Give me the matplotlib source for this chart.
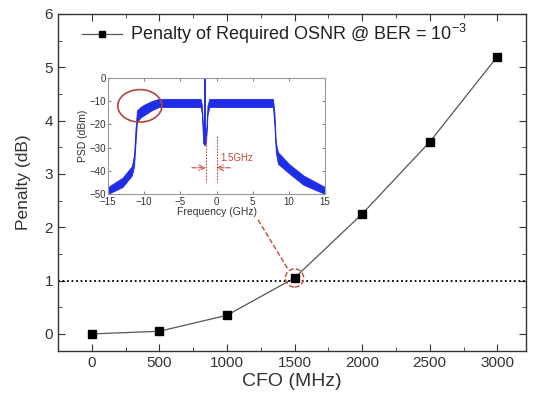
import matplotlib
matplotlib.use("Agg")
import matplotlib.pyplot as plt
from matplotlib.patches import Ellipse
from matplotlib.ticker import MultipleLocator

plt.rcParams["font.family"] = ["Liberation Sans", "DejaVu Sans"]

# main curve: OSNR penalty vs carrier frequency offset
cfo_mhz = [0, 500, 1000, 1500, 2000, 2500, 3000]
penalty_db = [0.0, 0.05, 0.35, 1.05, 2.25, 3.6, 5.2]
ref_penalty = 1.0

# inset spectrum, read as an upper/lower envelope of the noisy trace
psd_freq = [-15, -13, -11.7, -11.4, -11.2, -11.0, -10.5, -10, -9, -8, -7.5,
            -2.2, -2.0, -1.85, -1.65, -1.45, -1.25, -1.0, 0, 7.8, 8.0, 8.2,
            8.5, 10, 12, 15]
psd_upper = [-47, -43, -38, -33, -22, -14, -12.5, -11.5, -10, -9, -9,
             -9, -12, -24, -25, -24, -12, -9, -9, -9, -15, -28,
             -32, -37, -42, -47]
psd_lower = [-50, -47, -42, -38, -28, -19, -17, -16, -14, -12.5, -12.5,
             -12.5, -16, -28, -29, -28, -16, -12.5, -12.5, -12.5, -20, -32,
             -37, -41, -46, -50]
carrier_freq = -1.65
carrier_peak = 0
cfo_marks = [-1.5, 0.0]

RED = "#c8463c"
TXT = "#333333"

fig = plt.figure(figsize=(5.35, 4.11), dpi=100)
ax = fig.add_axes([0.1084, 0.146, 0.8742, 0.820])

ax.plot(cfo_mhz, penalty_db, color="#555555", lw=0.9, marker="s", ms=6,
        mfc="black", mec="black",
        label="Penalty of Required OSNR @ BER = 10$^{\\mathregular{-3}}$")
ax.axhline(ref_penalty, color="black", ls=(0, (1, 1.5)), lw=1.3)

ax.set_xlim(-250, 3210)
ax.set_ylim(-0.32, 6)
ax.xaxis.set_major_locator(MultipleLocator(500))
ax.xaxis.set_minor_locator(MultipleLocator(250))
ax.yaxis.set_major_locator(MultipleLocator(1))
ax.yaxis.set_minor_locator(MultipleLocator(0.5))
ax.tick_params(which="both", direction="in", top=True, right=True,
               labelsize=11, colors=TXT, labelcolor=TXT)
ax.tick_params(which="major", length=5)
ax.tick_params(which="minor", length=3)
for s in ax.spines.values():
    s.set_color(TXT)
    s.set_linewidth(1.0)
ax.set_xlabel("CFO (MHz)", fontsize=14, color=TXT, labelpad=2)
ax.set_ylabel("Penalty (dB)", fontsize=12.5, color=TXT, labelpad=10)
ax.legend(loc="upper left", bbox_to_anchor=(0.051, 0.975), frameon=False,
          fontsize=13, handlelength=2.2, handletextpad=0.45, borderpad=0,
          borderaxespad=0, markerscale=0.75, labelcolor="#222222")

# dashed circle around the 1500 MHz point and link to the inset
ax.add_patch(Ellipse((cfo_mhz[3], penalty_db[3]), 135, 0.34, fill=False,
                     ec=RED, ls="--", lw=1.0, zorder=5))
ax.plot([1230, 1455], [2.14, 1.2], color=RED, ls="--", lw=1.0)

# inset
ins = fig.add_axes([0.2019, 0.528, 0.4056, 0.2822])
ins.fill_between(psd_freq, psd_lower, psd_upper, color="#1f2ee6", lw=0.6,
                 edgecolor="#1f2ee6")
ins.vlines(carrier_freq, psd_lower[psd_freq.index(carrier_freq)], carrier_peak,
           color="#1f2ee6", lw=1.4)
ins.set_xlim(-15, 15)
ins.set_ylim(-50, 0)
ins.xaxis.set_major_locator(MultipleLocator(5))
ins.yaxis.set_major_locator(MultipleLocator(10))
ins.tick_params(direction="in", top=True, right=True, length=2.5,
                labelsize=7, colors="#888888", labelcolor=TXT, pad=1.5)
ins.tick_params(axis="x", pad=2.5)
for s in ins.spines.values():
    s.set_color("#999999")
    s.set_linewidth(0.8)
ins.set_xlabel("Frequency (GHz)", fontsize=7.5, color=TXT, labelpad=0)
ins.set_ylabel("PSD (dBm)", fontsize=7.5, color=TXT, labelpad=1)

ins.add_patch(Ellipse((-10.6, -12), 6.1, 14, fill=False, ec="#b5463a", lw=1.2))
for f in cfo_marks:
    ins.plot([f, f], [-25, -45], color=RED, ls=(0, (1.5, 1.2)), lw=0.8)
ins.annotate("", xy=(cfo_marks[0], -38.7), xytext=(-3.4, -38.7),
             arrowprops=dict(arrowstyle="->", color=RED, lw=0.8, ls="--",
                             shrinkA=0, shrinkB=0))
ins.annotate("", xy=(cfo_marks[1], -38.7), xytext=(1.9, -38.7),
             arrowprops=dict(arrowstyle="->", color=RED, lw=0.8, ls="--",
                             shrinkA=0, shrinkB=0))
ins.text(0.5, -34.5, "1.5GHz", color=RED, fontsize=7, ha="left", va="center")

fig.savefig("out.png", dpi=100)
